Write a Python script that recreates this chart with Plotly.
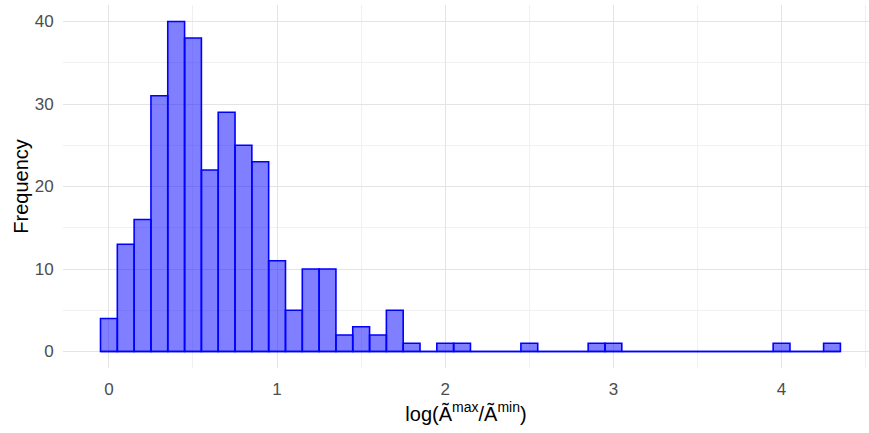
import plotly.graph_objects as go

bin_width = 0.1
bin_centers = [round(i * 0.1, 1) for i in range(44)]
counts = [4, 13, 16, 31, 40, 38, 22, 29, 25, 23,
          11, 5, 10, 10, 2, 3, 2, 5, 1, 0,
          1, 1, 0, 0, 0, 1, 0, 0, 0, 1,
          1, 0, 0, 0, 0, 0, 0, 0, 0, 0,
          1, 0, 0, 1]
x_ticks = [0, 1, 2, 3, 4]
y_ticks = [0, 10, 20, 30, 40]

fig = go.Figure()
fig.add_trace(go.Scatter(
    x=[bin_centers[0] - bin_width / 2, bin_centers[-1] + bin_width / 2],
    y=[0, 0], mode="lines", line=dict(color="#0000ff", width=1.6),
    hoverinfo="skip", showlegend=False))
fig.add_trace(go.Bar(
    x=bin_centers, y=counts, width=bin_width,
    marker=dict(color="rgba(0,0,255,0.5)", line=dict(color="#0000ff", width=1.6)),
    showlegend=False))

fig.update_layout(
    width=869, height=433,
    margin=dict(l=63, r=0, t=5, b=65),
    paper_bgcolor="white", plot_bgcolor="white",
    font=dict(family="Liberation Sans, Arial, sans-serif", color="#4d4d4d", size=16),
    xaxis=dict(
        range=[-0.273, 4.52], tickvals=x_ticks, showgrid=True, automargin=False,
        gridcolor="#e4e4e4", gridwidth=1.4, zeroline=False, ticks="outside",
        ticklen=6, tickcolor="rgba(0,0,0,0)", tickfont=dict(size=17, color="#4d4d4d"),
        minor=dict(dtick=0.5, tick0=0, showgrid=True, gridcolor="#f0f0f0", gridwidth=0.8),
        title=dict(text="log(Ã<sup>max</sup>/Ã<sup>min</sup>)",
                   font=dict(size=20, color="black"), standoff=3),
    ),
    yaxis=dict(
        range=[-2, 42], tickvals=y_ticks, showgrid=True, automargin=False,
        gridcolor="#e4e4e4", gridwidth=1.4, zeroline=False, ticks="outside",
        ticklen=5, tickcolor="rgba(0,0,0,0)", tickfont=dict(size=17, color="#4d4d4d"),
        minor=dict(dtick=5, tick0=0, showgrid=True, gridcolor="#f0f0f0", gridwidth=0.8),
        title=dict(text="Frequency", font=dict(size=20, color="black"), standoff=0),
    ),
)
fig.write_html("out.html", config={"displayModeBar": False},
               post_script="document.body.style.margin='0';")
